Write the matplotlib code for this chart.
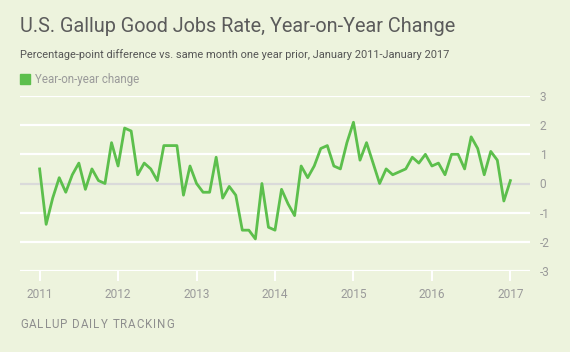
import matplotlib
matplotlib.use("Agg")
import matplotlib.pyplot as plt
import matplotlib.patches as mpatches

# year-on-year change, monthly, Jan 2011 - Jan 2017
yoy_change = [
    0.5, -1.4, -0.5, 0.2, -0.3, 0.3, 0.7, -0.2, 0.5, 0.1, 0.0, 1.4,   # 2011
    0.6, 1.9, 1.8, 0.3, 0.7, 0.5, 0.1, 1.3, 1.3, 1.3, -0.4, 0.6,      # 2012
    0.0, -0.3, -0.3, 0.9, -0.5, -0.1, -0.4, -1.6, -1.6, -1.9, 0.0, -1.5,  # 2013
    -1.6, -0.2, -0.7, -1.1, 0.6, 0.2, 0.6, 1.2, 1.3, 0.6, 0.5, 1.4,   # 2014
    2.1, 0.8, 1.4, 0.7, 0.0, 0.5, 0.3, 0.4, 0.5, 0.9, 0.7, 1.0,       # 2015
    0.6, 0.7, 0.3, 1.0, 1.0, 0.5, 1.6, 1.2, 0.3, 1.1, 0.8, -0.6,      # 2016
    0.1,                                                             # 2017
]
months = list(range(len(yoy_change)))
year_labels = ["2011", "2012", "2013", "2014", "2015", "2016", "2017"]
year_pos = [12 * i for i in range(len(year_labels))]
y_ticks = [-3, -2, -1, 0, 1, 2, 3]

bg = "#edf3dd"
green = "#5cbf4c"
grey_txt = "#9a9a9a"

plt.rcParams["font.family"] = ["Roboto", "DejaVu Sans"]

fig = plt.figure(figsize=(5.7, 3.52), dpi=100)
fig.patch.set_facecolor(bg)

W, H = 570.0, 352.0
ax = fig.add_axes([20 / W, 1 - 271 / H, 510 / W, 175 / H])
ax.set_facecolor(bg)

for v in y_ticks:
    ax.axhline(v, color="#dadada" if v == 0 else "white", lw=1.6, zorder=1)

ax.plot(months, yoy_change, color=green, lw=2.0, zorder=3)

ax.set_xlim(-3, 75)
ax.set_ylim(-3, 3)
for s in ax.spines.values():
    s.set_visible(False)

ax.set_xticks(year_pos)
ax.set_xticklabels(year_labels)
ax.tick_params(axis="x", length=7, width=1.4, color="white", labelcolor=grey_txt,
               labelsize=8.6, pad=5)
ax.yaxis.tick_right()
ax.set_yticks(y_ticks)
ax.set_yticklabels([str(v) if v >= 0 else "-" + str(-v) for v in y_ticks])
ax.tick_params(axis="y", length=0, labelcolor=grey_txt, labelsize=8.6, pad=7)
for lab in ax.get_yticklabels():
    lab.set_horizontalalignment("left")

fig.text(20 / W, 1 - 27 / H, "U.S. Gallup Good Jobs Rate, Year-on-Year Change",
         fontsize=14.3, color="#5b5b5b", va="center", ha="left")
fig.text(20 / W, 1 - 55 / H,
         "Percentage-point difference vs. same month one year prior, January 2011-January 2017",
         fontsize=7.95, color="#555555", va="center", ha="left")

fig.patches.append(mpatches.Rectangle((20 / W, 1 - 84 / H), 10 / W, 10 / H,
                                      transform=fig.transFigure, color=green))
fig.text(35 / W, 1 - 79 / H, "Year-on-year change", fontsize=8.3, color=grey_txt,
         va="center", ha="left")

# footer is letter-spaced, so place it one character at a time
renderer = fig.canvas.get_renderer()
fx = 20.0
for ch in "GALLUP DAILY TRACKING":
    t = fig.text(fx / W, 1 - 324 / H, ch, fontsize=8.3, color="#8e8e8e",
                 va="center", ha="left")
    fx += t.get_window_extent(renderer=renderer).width + 1.0

fig.savefig("out.png", dpi=100, facecolor=bg)
